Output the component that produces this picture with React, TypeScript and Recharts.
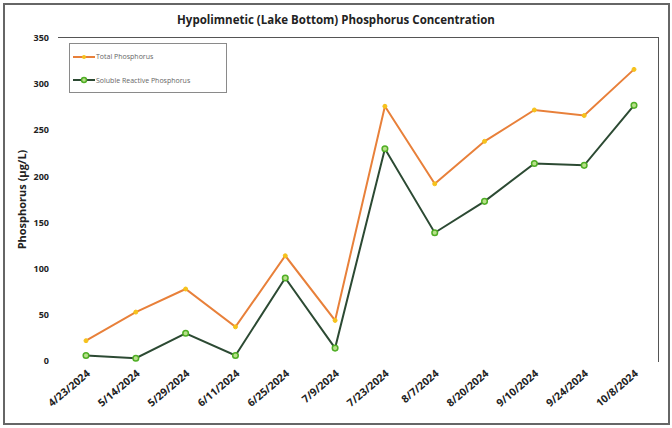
import React from 'react';
import { LineChart, Line, XAxis, YAxis } from 'recharts';

const dates = ['4/23/2024', '5/14/2024', '5/29/2024', '6/11/2024', '6/25/2024', '7/9/2024', '7/23/2024', '8/7/2024', '8/20/2024', '9/10/2024', '9/24/2024', '10/8/2024'];
const totalP = [22, 53, 78, 37, 114, 44, 276, 192, 238, 272, 266, 316];
const solubleP = [6, 3, 30, 6, 90, 14, 230, 139, 173, 214, 212, 277];
const yTicks = [0, 50, 100, 150, 200, 250, 300, 350];

const data = dates.map((d, i) => ({ date: d, total: totalP[i], srp: solubleP[i] }));

const font = '"Open Sans", "Liberation Sans", sans-serif';

const LegendBox = () => (
  <div style={{ position: 'absolute', left: 69, top: 43, border: '1px solid #8a8a8a', width: 158, height: 50, background: '#fff', fontFamily: font, fontSize: 7, color: '#666', boxSizing: 'border-box' }}>
    <div style={{ display: 'flex', alignItems: 'center', height: 25, paddingLeft: 3 }}>
      <svg width={22} height={8}>
        <line x1={0} y1={4} x2={22} y2={4} stroke="#e8803a" strokeWidth={2} />
        <circle cx={11} cy={4} r={2} fill="#f6c21c" />
      </svg>
      <span style={{ marginLeft: 1 }}>Total Phosphorus</span>
    </div>
    <div style={{ display: 'flex', alignItems: 'center', height: 22, paddingLeft: 3 }}>
      <svg width={22} height={8}>
        <line x1={0} y1={4} x2={22} y2={4} stroke="#2c4a33" strokeWidth={2} />
        <circle cx={11} cy={4} r={2.5} fill="#b8e08a" stroke="#4fae25" strokeWidth={1.5} />
      </svg>
      <span style={{ marginLeft: 1 }}>Soluble Reactive Phosphorus</span>
    </div>
  </div>
);

export default function App() {
  return (
    <div style={{ position: 'absolute', left: 0, top: 0, width: 672, height: 428, background: '#fff' }}>
      <div style={{ position: 'absolute', left: 3, top: 3, width: 663, height: 418, border: '2px solid #666' }} />
      <div style={{ position: 'absolute', left: 0, top: 12, width: 672, textAlign: 'center', fontFamily: font, fontWeight: 700, fontSize: 11.5, color: '#222' }}>
        Hypolimnetic (Lake Bottom) Phosphorus Concentration
      </div>
      <div style={{ position: 'absolute', left: 58, top: 37, width: 600, height: 324, borderTop: '1.5px solid #555', borderRight: '1.5px solid #555' }} />
      <div style={{ position: 'absolute', left: 0, top: 0 }}>
        <LineChart width={672} height={428} data={data} margin={{ top: 38, right: 13, left: 0, bottom: 0 }}>
          <XAxis
            dataKey="date"
            height={67}
            axisLine={false}
            tickLine={false}
            interval={0}
            padding={{ left: 26, right: 25 }}
            tickSize={0}
            tickMargin={8}
            angle={-40}
            textAnchor="end"
            tick={{ fill: '#222', fontSize: 10.5, fontWeight: 700, fontFamily: font }}
          />
          <YAxis
            domain={[0, 350]}
            ticks={yTicks}
            width={60}
            axisLine={false}
            tickLine={false}
            tickSize={0}
            tickMargin={11}
            tick={{ fill: '#222', fontSize: 9, fontWeight: 700, fontFamily: font }}
            label={{ value: 'Phosphorus (\u00b5g/L)', angle: -90, position: 'insideLeft', offset: 22, style: { fill: '#222', fontSize: 11, fontWeight: 700, fontFamily: font, textAnchor: 'middle' } }}
          />
          <Line
            dataKey="total"
            name="Total Phosphorus"
            stroke="#e8803a"
            strokeWidth={2}
            dot={{ r: 2, fill: '#f6c21c', stroke: '#f6c21c', strokeWidth: 1 }}
            isAnimationActive={false}
          />
          <Line
            dataKey="srp"
            name="Soluble Reactive Phosphorus"
            stroke="#2c4a33"
            strokeWidth={2}
            dot={{ r: 2.8, fill: '#b8e08a', stroke: '#4fae25', strokeWidth: 1.5 }}
            isAnimationActive={false}
          />
        </LineChart>
      </div>
      <LegendBox />
    </div>
  );
}
